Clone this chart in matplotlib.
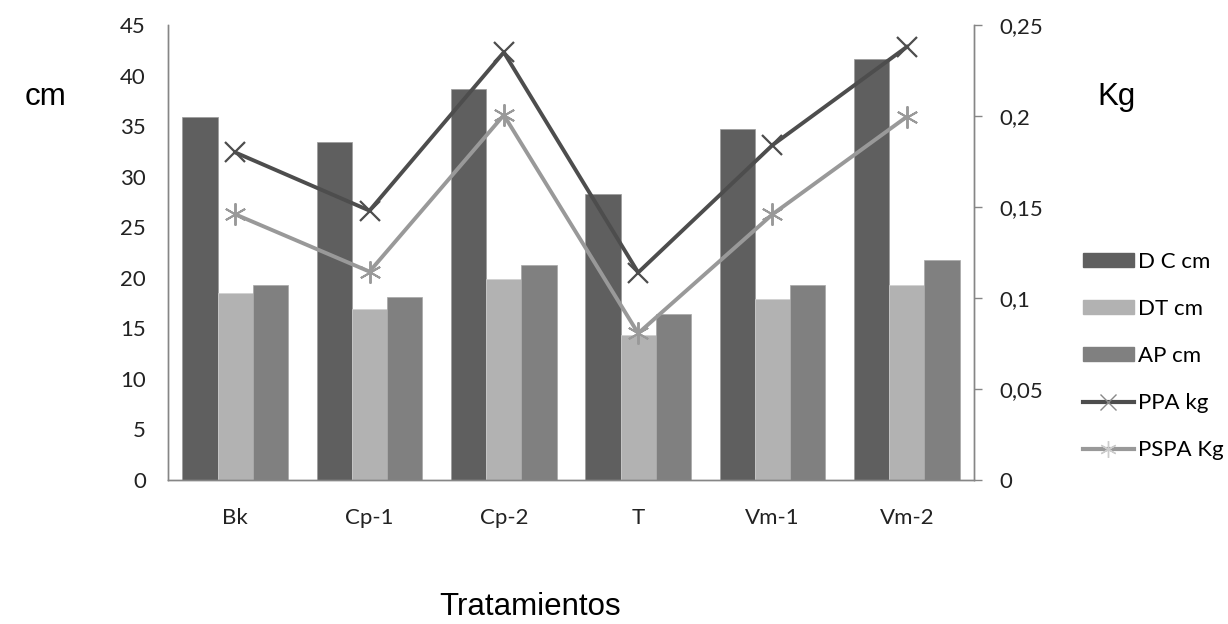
import numpy as np
import matplotlib
matplotlib.use("Agg")
from matplotlib import pyplot as plt
from matplotlib.lines import Line2D
import matplotlib.patches as mpatches

# data
categories = ["Bk", "Cp-1", "Cp-2", "T", "Vm-1", "Vm-2"]
dc_cm = [35.9, 33.4, 38.7, 28.3, 34.7, 41.6]
dt_cm = [18.5, 16.9, 19.9, 14.3, 17.9, 19.3]
ap_cm = [19.3, 18.1, 21.3, 16.4, 19.3, 21.8]
ppa_kg = [0.180, 0.148, 0.235, 0.114, 0.184, 0.238]
pspa_kg = [0.146, 0.1145, 0.2005, 0.0806, 0.146, 0.1996]
left_ticks = [0, 5, 10, 15, 20, 25, 30, 35, 40, 45]
right_ticks = [0, 0.05, 0.1, 0.15, 0.2, 0.25]
right_labels = ["0", "0,05", "0,1", "0,15", "0,2", "0,25"]

tick_font = "Lato"
label_font = "Liberation Sans"
axis_grey = "#868686"
fs = 16

fig = plt.figure(figsize=(12.28, 6.24), dpi=100)
ax = fig.add_axes([168 / 1228, 1 - 480 / 624, (974 - 168) / 1228, (480 - 25) / 624])
ax2 = ax.twinx()

x = np.arange(len(categories))
w = 0.263
ax.bar(x - w, dc_cm, w, color="#5f5f5f", edgecolor="#9a9a9a", linewidth=0.5, zorder=2)
ax.bar(x, dt_cm, w, color="#b2b2b2", edgecolor="#d0d0d0", linewidth=0.5, zorder=2)
ax.bar(x + w, ap_cm, w, color="#808080", edgecolor="#a8a8a8", linewidth=0.5, zorder=2)

ax2.plot(x, ppa_kg, color="#4d4d4d", lw=2.8, marker="x", ms=15, mew=1.6, zorder=3)
ax2.plot(x, pspa_kg, color="#999999", lw=2.8, marker=(6, 2, 0), ms=16, mew=1.4, zorder=3)

ax.set_xlim(-0.5, len(categories) - 0.5)
ax.set_ylim(0, 45)
ax2.set_ylim(0, 0.25)
ax.set_xticks(x)
ax.set_xticklabels(categories, fontfamily=tick_font, fontsize=fs, color="#222222")
ax.set_yticks(left_ticks)
ax.set_yticklabels([str(t) for t in left_ticks], fontfamily=tick_font, fontsize=fs, color="#222222")
ax2.set_yticks(right_ticks)
ax2.set_yticklabels(right_labels, fontfamily=tick_font, fontsize=fs, color="#222222")
ax.tick_params(axis="x", length=0, pad=20)
ax.tick_params(axis="y", length=0, pad=16)
ax2.tick_params(axis="y", length=6, width=1, color=axis_grey, pad=12)

for a in (ax, ax2):
    a.spines["top"].set_visible(False)
    for s in ("left", "right", "bottom"):
        a.spines[s].set_color(axis_grey)
        a.spines[s].set_linewidth(1)

fig.text(45 / 1228, 1 - 97 / 624, "cm", fontfamily=label_font, fontsize=22.5, ha="center", va="center")
fig.text(1116 / 1228, 1 - 97 / 624, "Kg", fontfamily=label_font, fontsize=22.5, ha="center", va="center")
fig.text(530 / 1228, 1 - 607 / 624, "Tratamientos", fontfamily=label_font, fontsize=22.5, ha="center", va="center")

handles = [
    mpatches.Patch(color="#5f5f5f", label="D C cm"),
    mpatches.Patch(color="#b2b2b2", label="DT cm"),
    mpatches.Patch(color="#808080", label="AP cm"),
    Line2D([], [], color="#4d4d4d", lw=3, marker="x", ms=12, mew=1, mec="#888888", label="PPA kg"),
    Line2D([], [], color="#999999", lw=3, marker=(6, 2, 0), ms=12, mew=1, mec="#cccccc", label="PSPA Kg"),
]
fig.legend(handles=handles, loc="center left", bbox_to_anchor=(1074 / 1228, 1 - 356 / 624),
           frameon=False, prop={"family": tick_font, "size": fs}, handlelength=2.3,
           handleheight=0.62, handletextpad=0.2, labelspacing=1.22, borderaxespad=0)

fig.savefig("out.png", dpi=100)
